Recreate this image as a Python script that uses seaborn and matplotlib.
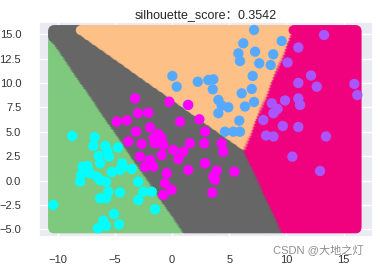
import numpy as np
import pandas as pd
import matplotlib
matplotlib.use("Agg")
import matplotlib.pyplot as plt
import seaborn as sns

title_text = "silhouette_score：0.3542"
watermark_text = "CSDN @大地之灯"

# cluster 0 (cyan points, green region)
c0_x = [-8.72, -6.76, -6.88, -5.83, -5.66, -4.72, -6.41, -5.51, -6.29, -7.81,
        -7.40, -7.95, -7.17, -6.58, -6.29, -5.77, -8.04, -5.27, -4.55, -4.37,
        -4.26, -10.38, -5.57, -6.29, -5.77, -4.55, -5.07, -6.01, -5.77, -6.49,
        -4.63, -3.52, -2.95, -2.51, -1.77, -2.95, -1.49]
c0_y = [4.58, 4.45, 3.56, 3.56, 3.07, 3.40, 2.53, 2.46, 1.78, 1.43,
        1.51, 0.58, 0.76, 0.41, 0.07, -0.10, -0.10, 0.89, 1.10, 1.78,
        1.43, -2.49, -1.13, -1.80, -1.80, -1.21, -3.41, -4.10, -4.64, -4.88,
        -4.47, 1.20, -0.10, -1.13, -1.13, -1.98, -2.93]

# cluster 1 (light blue points, peach region)
c1_x = [7.17, 9.59, 6.23, 5.80, 5.94, 7.26, 8.85, 7.63, 8.63, 7.05,
        0.03, 0.41, 2.25, 3.17, 3.61, 3.56, 1.37, 4.05, 4.34, 4.92,
        4.05, 6.09, 6.97, 6.38, 7.17, 5.88, 4.63, 5.36, 5.94]
c1_y = [15.44, 14.31, 14.08, 13.05, 12.26, 13.22, 12.95, 12.03, 11.85, 10.73,
        10.73, 9.63, 10.14, 10.32, 10.39, 9.36, 7.76, 8.27, 7.70, 7.52,
        6.91, 8.95, 9.40, 7.60, 8.06, 6.15, 5.02, 5.02, 5.02]

# cluster 2 (purple points, pink region)
c2_x = [13.29, 11.04, 10.10, 12.15, 12.65, 11.04, 15.94, 16.20, 11.04, 11.19,
        9.88, 8.72, 9.22, 8.86, 7.98, 9.68, 11.04, 8.22, 8.87, 13.46,
        10.52, 12.94]
c2_y = [14.93, 13.65, 12.11, 10.78, 9.63, 10.01, 9.91, 8.78, 8.42, 7.76,
        8.22, 7.93, 7.35, 6.91, 6.22, 5.60, 5.50, 4.63, 4.53, 4.53,
        2.46, 0.99]

# cluster 3 (magenta points, gray region)
c3_x = [-3.23, -0.24, 1.42, -4.83, -3.96, -2.97, -2.07, 0.70, 2.39, -3.15,
        -1.92, -1.20, 2.88, -0.90, -1.63, -3.82, -2.65, -1.49, -0.76, 0.11,
        0.99, 1.57, 2.82, 4.34, 4.48, -2.80, -1.92, -0.90, 0.55, -2.36,
        -1.63, -0.46, 1.42, 2.88, 3.91, 3.61, 3.76, 5.45, -0.61, -0.03,
        -0.76, 3.52]
c3_y = [8.44, 8.09, 7.76, 6.05, 6.17, 6.91, 6.97, 6.05, 6.29, 5.02,
        5.45, 4.78, 5.02, 4.34, 4.34, 4.00, 3.76, 3.83, 3.66, 3.15,
        2.97, 3.83, 3.83, 3.83, 2.97, 2.46, 2.12, 2.63, 2.22, 1.43,
        1.43, 0.76, 1.10, 1.78, 1.02, 0.41, 0.07, 0.92, -0.27, -0.95,
        -1.47, -1.23]

xs = [c0_x, c1_x, c2_x, c3_x]
ys = [c0_y, c1_y, c2_y, c3_y]
frames = [pd.DataFrame({"x": x, "y": y, "label": k}) for k, (x, y) in enumerate(zip(xs, ys))]
pts = pd.concat(frames, ignore_index=True)

# centroids = cluster means; regions = nearest centroid
cent = pts.groupby("label")[["x", "y"]].mean().values
step = 0.1
gx, gy = np.meshgrid(np.arange(pts.x.min(), pts.x.max() + 1e-9, step),
                     np.arange(pts.y.min(), pts.y.max() + 1e-9, step))
gxf, gyf = gx.ravel(), gy.ravel()
d = (gxf[:, None] - cent[None, :, 0]) ** 2 + (gyf[:, None] - cent[None, :, 1]) ** 2
mesh = pd.DataFrame({"x": gxf, "y": gyf, "label": d.argmin(axis=1)})

accent = plt.get_cmap("Accent")
cool = plt.get_cmap("cool")
region_pal = {k: accent(k / 3) for k in range(4)}
point_pal = {k: cool(k / 3) for k in range(4)}

sns.set_theme(style="darkgrid")
plt.rcParams["font.family"] = ["Liberation Sans", "Noto Sans CJK SC", "DejaVu Sans"]

fig = plt.figure(figsize=(3.8, 2.65), dpi=100)
ax = fig.add_axes([0.1026, 0.1057, 0.879, 0.8113])

sns.scatterplot(data=mesh, x="x", y="y", hue="label", palette=region_pal,
                s=50, linewidth=0, legend=False, ax=ax)
sns.scatterplot(data=pts, x="x", y="y", hue="label", palette=point_pal,
                s=55, linewidth=0, legend=False, ax=ax)

ax.set_xlim(-11.63, 17.57)
ax.set_ylim(-5.77, 16.26)
ax.set_xticks([-10, -5, 0, 5, 10, 15])
ax.set_yticks([-5.0, -2.5, 0.0, 2.5, 5.0, 7.5, 10.0, 12.5, 15.0])
ax.set_xlabel("")
ax.set_ylabel("")
ax.tick_params(axis="both", labelsize=8, pad=6.8, colors="#333333")
ax.set_title(title_text, fontsize=9, pad=3, color="#262626")

fig.text(0.718, 0.056, watermark_text, fontsize=8, color="#7a7a7a", alpha=0.85,
         ha="left", va="center", family=["Liberation Sans", "Noto Sans CJK SC"])

fig.savefig("out.png", dpi=100)
